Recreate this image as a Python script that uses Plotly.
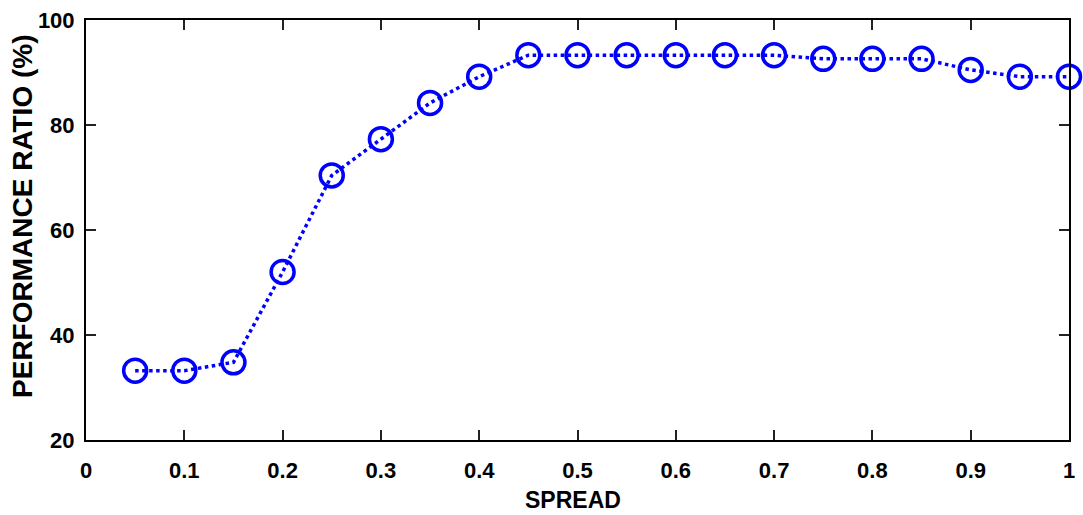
import plotly.graph_objects as go

spread = [0.05, 0.10, 0.15, 0.20, 0.25, 0.30, 0.35, 0.40, 0.45, 0.50,
          0.55, 0.60, 0.65, 0.70, 0.75, 0.80, 0.85, 0.90, 0.95, 1.00]
ratio = [33.2, 33.2, 34.8, 52.0, 70.4, 77.3, 84.2, 89.2, 93.3, 93.3,
         93.3, 93.3, 93.3, 93.3, 92.6, 92.6, 92.6, 90.5, 89.2, 89.2]

x_ticks = [0, 0.1, 0.2, 0.3, 0.4, 0.5, 0.6, 0.7, 0.8, 0.9, 1]
x_labels = ["0", "0.1", "0.2", "0.3", "0.4", "0.5", "0.6", "0.7", "0.8", "0.9", "1"]
y_ticks = [20, 40, 60, 80, 100]
y_labels = ["20", "40", "60", "80", "100"]

tick_font = dict(family="Liberation Sans, Arial", size=22, color="black", weight="bold")

fig = go.Figure()
fig.add_trace(go.Scatter(
    x=spread, y=ratio, mode="lines+markers",
    line=dict(color="rgb(0,0,255)", width=3.5, dash="dot"),
    marker=dict(symbol="circle-open", size=23, color="rgb(0,0,255)",
                line=dict(color="rgb(0,0,255)", width=3.5)),
    cliponaxis=False, showlegend=False,
))

fig.update_layout(
    width=1083, height=515,
    margin=dict(l=86, r=8, t=17, b=75),
    paper_bgcolor="white", plot_bgcolor="white",
    xaxis=dict(range=[0, 1], tickvals=x_ticks, ticktext=x_labels,
               showgrid=False, zeroline=False, showline=True, linecolor="black",
               linewidth=2, mirror="allticks", ticks="inside", ticklen=10,
               tickwidth=1.5, tickcolor="#222", tickfont=tick_font,
               ticklabelstandoff=10),
    yaxis=dict(range=[20, 100], tickvals=y_ticks, ticktext=y_labels,
               showgrid=False, zeroline=False, showline=True, linecolor="black",
               linewidth=2, mirror="allticks", ticks="inside", ticklen=10,
               tickwidth=1.5, tickcolor="#222", tickfont=tick_font,
               ticklabelstandoff=5),
    annotations=[
        dict(text="<b>SPREAD</b>", xref="paper", yref="paper", x=0.4955, y=-0.144,
             xanchor="center", yanchor="middle", showarrow=False,
             font=dict(family="Liberation Sans, Arial", size=23, color="black")),
        dict(text="<b>PERFORMANCE RATIO (%)</b>", xref="paper", yref="paper", x=-0.0647, y=0.532,
             xanchor="center", yanchor="middle", showarrow=False, textangle=-90,
             font=dict(family="Liberation Sans, Arial", size=28, color="black")),
    ],
)

fig.write_html("out.html", config={"displayModeBar": False},
               post_script="document.body.style.margin='0';")
